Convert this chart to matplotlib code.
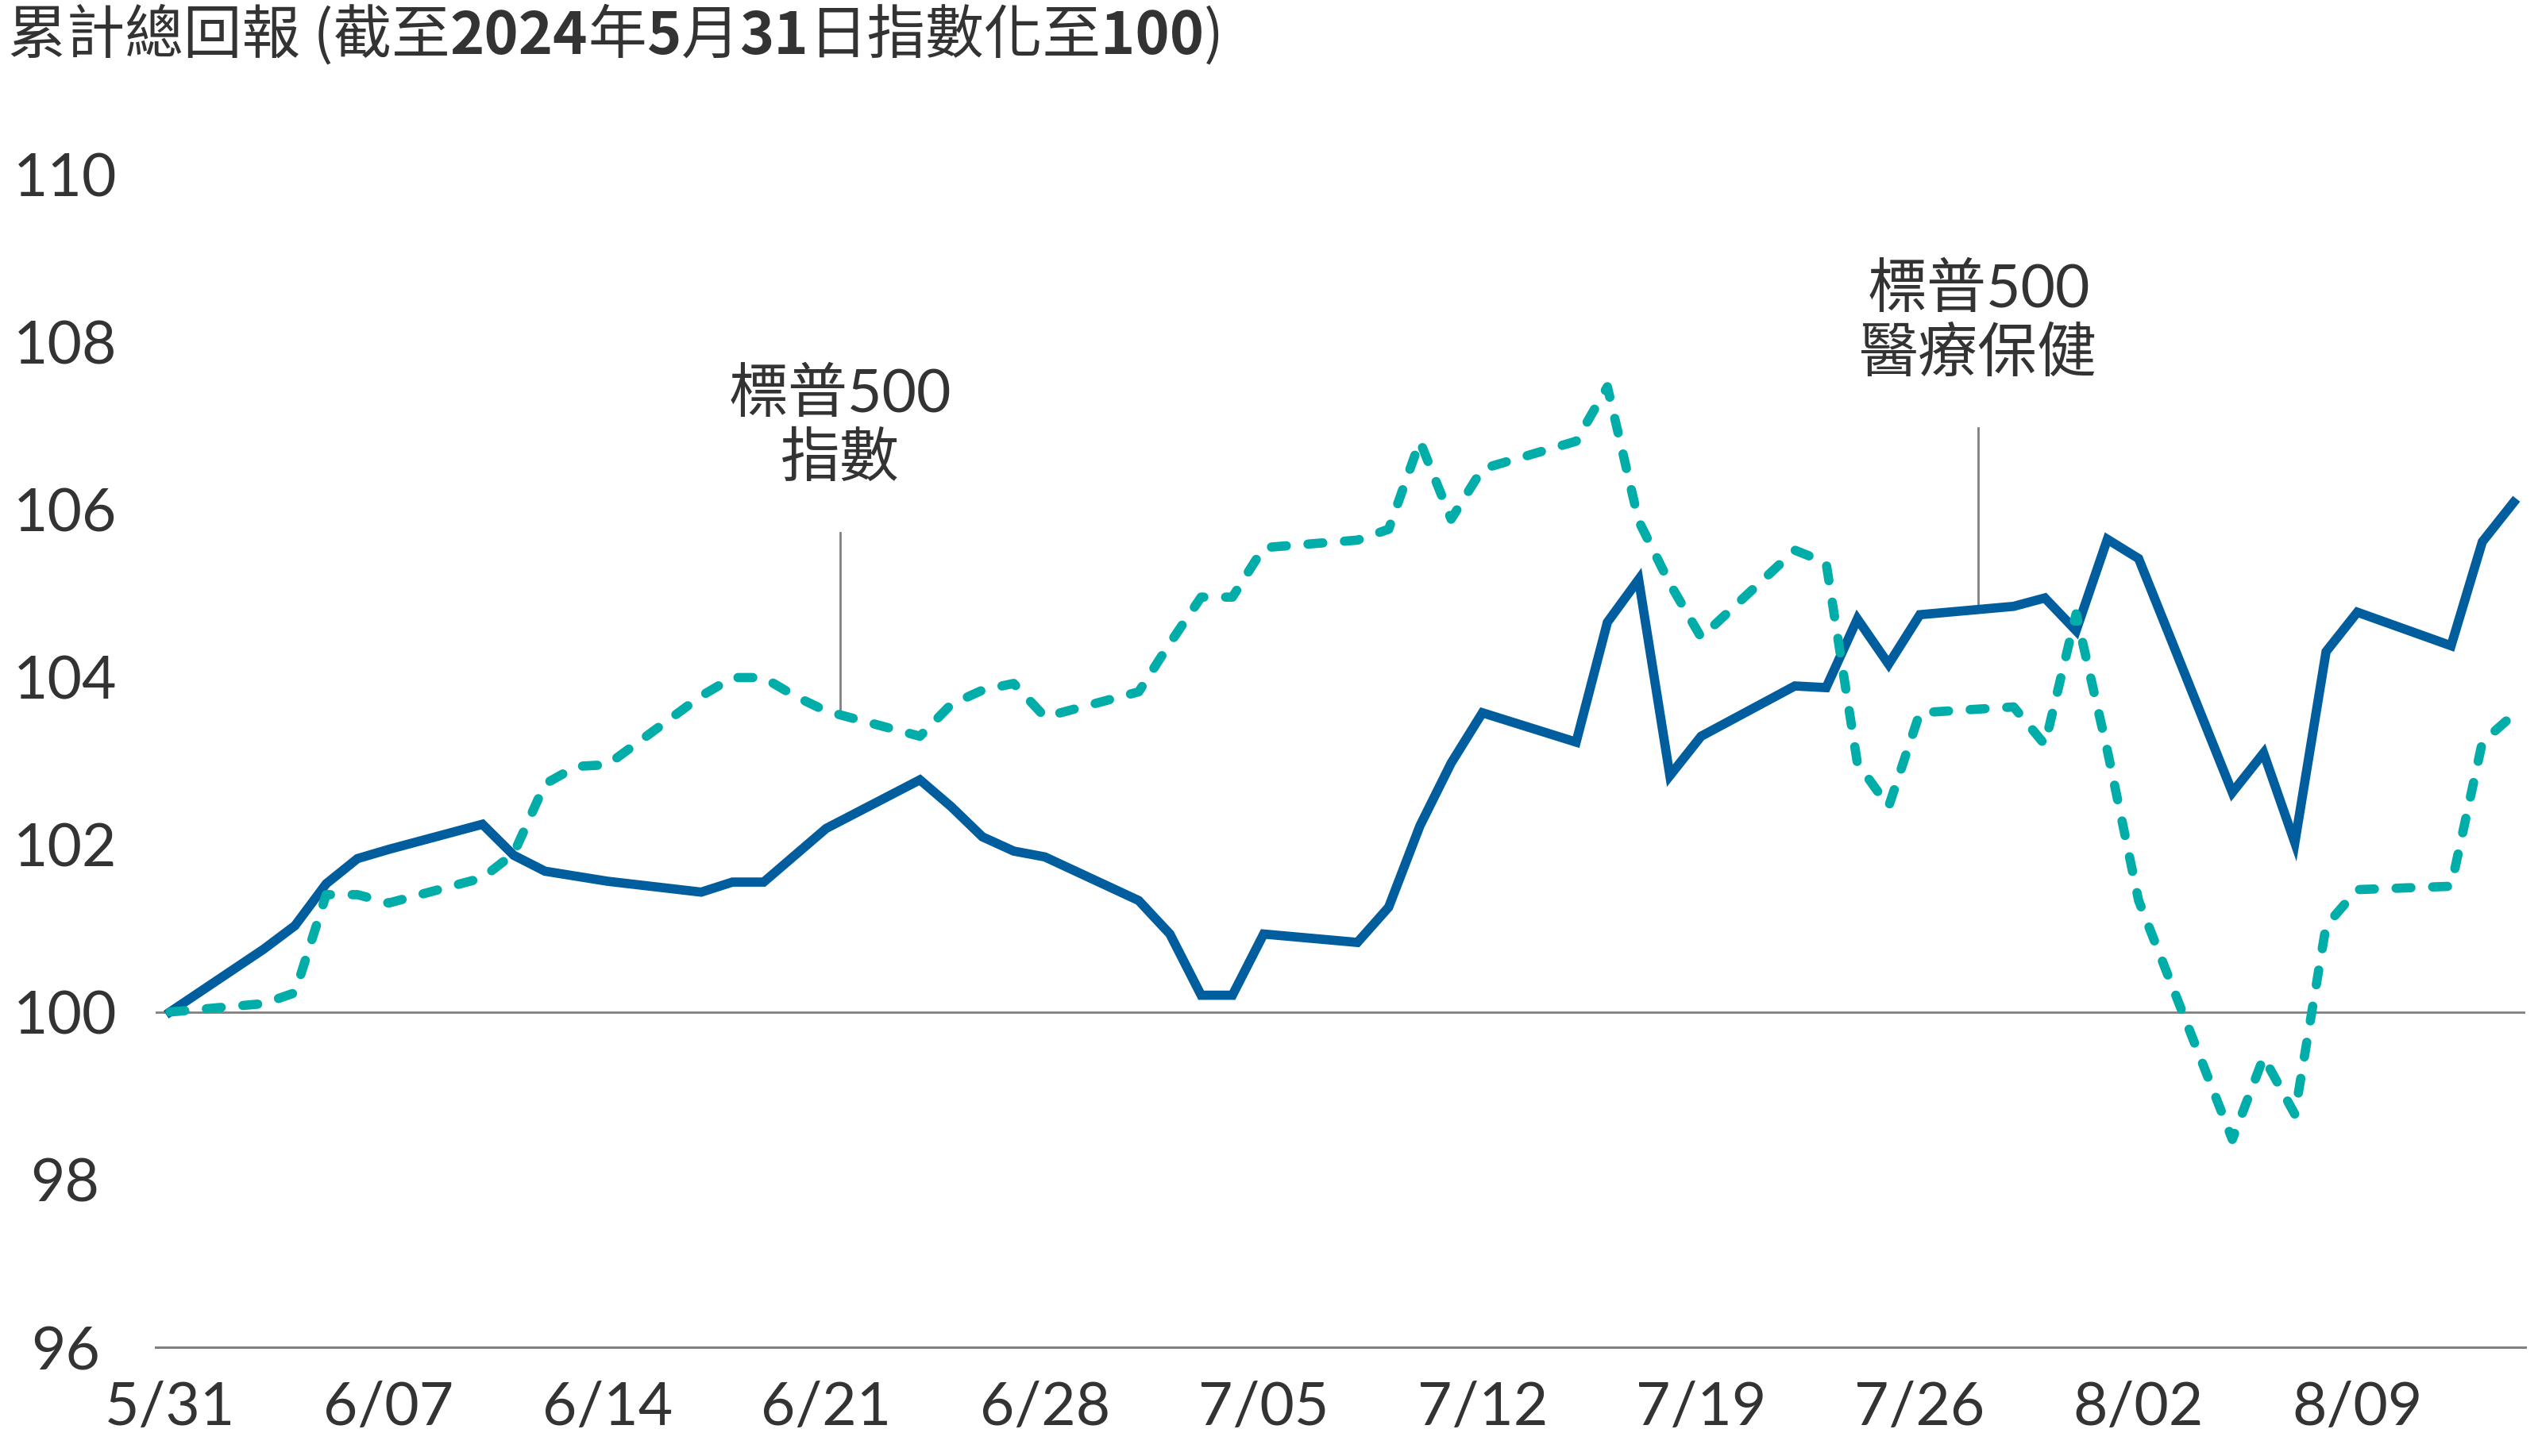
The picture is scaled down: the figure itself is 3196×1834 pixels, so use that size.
import matplotlib
matplotlib.use("Agg")
import matplotlib.pyplot as plt
import pandas as pd

plt.rcParams['font.family'] = ['Lato', 'Noto Sans CJK TC', 'DejaVu Sans']

# trading days (holidays carry the prior value)
dates = ["2024-05-31",
         "2024-06-03", "2024-06-04", "2024-06-05", "2024-06-06", "2024-06-07",
         "2024-06-10", "2024-06-11", "2024-06-12", "2024-06-13", "2024-06-14",
         "2024-06-17", "2024-06-18", "2024-06-19", "2024-06-20", "2024-06-21",
         "2024-06-24", "2024-06-25", "2024-06-26", "2024-06-27", "2024-06-28",
         "2024-07-01", "2024-07-02", "2024-07-03", "2024-07-04", "2024-07-05",
         "2024-07-08", "2024-07-09", "2024-07-10", "2024-07-11", "2024-07-12",
         "2024-07-15", "2024-07-16", "2024-07-17", "2024-07-18", "2024-07-19",
         "2024-07-22", "2024-07-23", "2024-07-24", "2024-07-25", "2024-07-26",
         "2024-07-29", "2024-07-30", "2024-07-31", "2024-08-01", "2024-08-02",
         "2024-08-05", "2024-08-06", "2024-08-07", "2024-08-08", "2024-08-09",
         "2024-08-12", "2024-08-13", "2024-08-14"]

# S&P 500 Health Care (solid)
health = [100.0,
          100.75, 101.03, 101.53, 101.83, 101.94,
          102.24, 101.87, 101.68, 101.62, 101.56,
          101.43, 101.55, 101.55, 101.87, 102.19,
          102.77, 102.45, 102.09, 101.92, 101.85,
          101.33, 100.93, 100.20, 100.20, 100.93,
          100.83, 101.25, 102.22, 102.97, 103.57,
          103.22, 104.65, 105.16, 102.82, 103.29,
          103.89, 103.87, 104.69, 104.15, 104.74,
          104.84, 104.94, 104.55, 105.64, 105.41,
          102.62, 103.09, 102.02, 104.30, 104.77,
          104.37, 105.61, 106.08]

# S&P 500 index (dashed)
sp500 = [100.0,
         100.10, 100.23, 101.40, 101.40, 101.30,
         101.60, 101.89, 102.72, 102.93, 102.95,
         103.77, 103.99, 103.99, 103.77, 103.59,
         103.29, 103.67, 103.84, 103.92, 103.52,
         103.82, 104.40, 104.95, 104.95, 105.54,
         105.63, 105.76, 106.81, 105.88, 106.48,
         106.81, 107.46, 105.86, 105.11, 104.47,
         105.51, 105.36, 102.97, 102.45, 103.57,
         103.64, 103.19, 104.75, 103.12, 101.33,
         98.48, 99.46, 98.78, 101.03, 101.46,
         101.50, 103.22, 103.55]

tick_dates = ["2024-05-31", "2024-06-07", "2024-06-14", "2024-06-21", "2024-06-28",
              "2024-07-05", "2024-07-12", "2024-07-19", "2024-07-26", "2024-08-02",
              "2024-08-09"]
tick_labels = ["5/31", "6/07", "6/14", "6/21", "6/28", "7/05", "7/12", "7/19",
               "7/26", "8/02", "8/09"]
y_ticks = [96, 98, 100, 102, 104, 106, 108, 110]

label_sp500 = "標普500\n指數"
label_health = "標普500\n醫療保健"

title_parts = [("累計總回報 (截至", "normal"), ("2024", "bold"), ("年", "normal"),
               ("5", "bold"), ("月", "normal"), ("31", "bold"),
               ("日指數化至", "normal"), ("100", "bold"), (")", "normal")]

BLUE = "#005E9E"
TEAL = "#00ADA8"
GREY = "#808080"
TXT = "#333333"
CJK = ["Noto Sans CJK TC", "DejaVu Sans"]

x = pd.to_datetime(dates)

W, H = 3196, 1834
fig = plt.figure(figsize=(W / 200, H / 200), dpi=200)
ax = fig.add_axes([196 / W, 1 - 1697 / H, (3180 - 196) / W, (1697 - 219) / H])

ax.axhline(100, color=GREY, lw=1.0, zorder=1)
ax.plot(x, health, color=BLUE, lw=4.2, solid_joinstyle="miter", zorder=3)
ax.plot(x, sp500, color=TEAL, lw=4.2, dashes=(1.6, 2.35),
        dash_capstyle="round", zorder=4)

# labels with leader lines
t1 = pd.Timestamp("2024-06-21 10:30")
ax.plot([t1, t1], [103.53, 105.72], color=GREY, lw=1.0, zorder=2)
ax.text(t1, 106.98, label_sp500, ha="center", va="center", multialignment="center",
        fontsize=27, color=TXT, linespacing=1.2)
t2 = pd.Timestamp("2024-07-27 21:00")
ax.plot([t2, t2], [104.85, 106.97], color=GREY, lw=1.0, zorder=2)
ax.text(t2, 108.23, label_health, ha="center", va="center", multialignment="center",
        fontsize=27, color=TXT, linespacing=1.2)

ax.set_xlim(pd.Timestamp("2024-05-31") - pd.Timedelta(hours=11),
            pd.Timestamp("2024-08-14") + pd.Timedelta(hours=9))
ax.set_ylim(96, 110)
ax.set_xticks(pd.to_datetime(tick_dates))
ax.set_xticklabels(tick_labels)
ax.set_yticks(y_ticks)
ax.set_yticklabels([str(v) for v in y_ticks])
ax.tick_params(axis="both", length=0, labelsize=27, labelcolor=TXT)
ax.tick_params(axis="x", pad=15)
ax.tick_params(axis="y", pad=41)
for lab in ax.get_yticklabels():
    lab.set_horizontalalignment("center")

for s in ["top", "right", "left"]:
    ax.spines[s].set_visible(False)
ax.spines["bottom"].set_color(GREY)
ax.spines["bottom"].set_linewidth(1.1)

# title with bold numbers, pieces chained left to right
prev = fig.text(10 / W, 1 - 84 / H, title_parts[0][0], fontsize=26.5, color=TXT,
                fontweight=title_parts[0][1], va="bottom", ha="left", family=CJK)
for txt, wt in title_parts[1:]:
    prev = ax.annotate(txt, xy=(1, 0), xycoords=prev, va="bottom", ha="left",
                       fontsize=26.5, color=TXT, fontweight=wt, family=CJK,
                       annotation_clip=False)

fig.savefig("out.png", dpi=200)
